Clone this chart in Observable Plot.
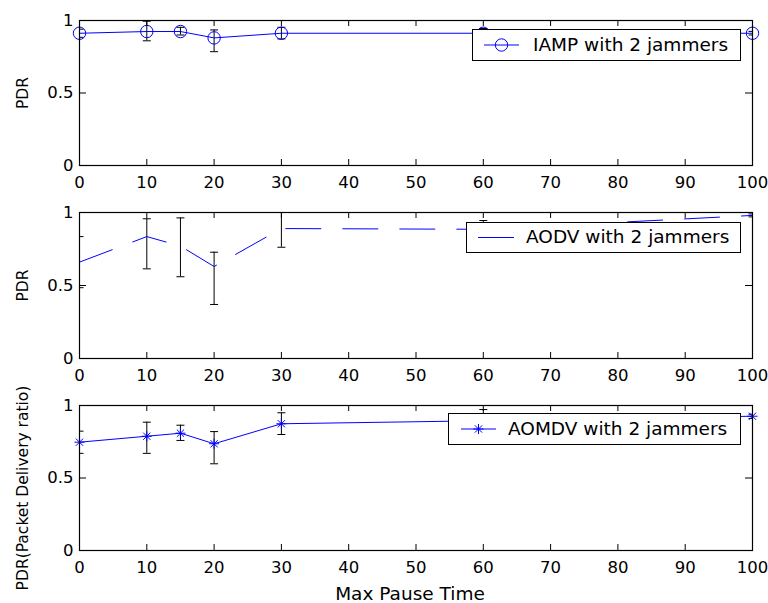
<!DOCTYPE html>
<html>
<head>
<meta charset="utf-8">
<script src="https://cdn.jsdelivr.net/npm/d3@7"></script>
<script src="https://cdn.jsdelivr.net/npm/@observablehq/plot@0.6"></script>
<style>
  html, body { margin: 0; padding: 0; background: white; }
  #wrap { position: relative; width: 768px; height: 603px; overflow: hidden; font-family: "DejaVu Sans", sans-serif; }
  .panel { position: absolute; left: 0; }
  .legend { position: absolute; box-sizing: border-box; border: 1.2px solid black; background: white; }
  .legend svg { position: absolute; left: 0; top: 0; }
  .legend span { position: absolute; font-size: 18.5px; line-height: 1; white-space: nowrap; }
</style>
</head>
<body>
<div id="wrap"></div>
<script>
// ---- data ----
const pauseTimes = [0, 10, 15, 20, 30, 60, 100];
const xTicks = [0, 10, 20, 30, 40, 50, 60, 70, 80, 90, 100];
const yTicks = [0, 0.5, 1];

const iampPDR = [0.912, 0.924, 0.924, 0.88, 0.912, 0.912, 0.912];
const iampLow = [0.884, 0.86, 0.90, 0.785, 0.873, 0.88, 0.90];
const iampHigh = [0.94, 0.995, 0.953, 0.935, 0.953, 0.945, 0.925];

const aodvPDR = [0.66, 0.835, 0.77, 0.63, 0.89, 0.885, 0.98];
const aodvLow = [0.485, 0.614, 0.56, 0.37, 0.762, 0.84, 0.97];
const aodvHigh = [0.835, 0.957, 0.963, 0.728, 1.02, 0.945, 0.99];

const aomdvPDR = [0.747, 0.788, 0.809, 0.736, 0.874, 0.895, 0.926];
const aomdvLow = [0.67, 0.67, 0.759, 0.598, 0.80, 0.82, 0.91];
const aomdvHigh = [0.823, 0.885, 0.864, 0.82, 0.95, 0.972, 0.94];

const legendLabels = ["IAMP with 2 jammers", "AODV with 2 jammers", "AOMDV with 2 jammers"];
const yLabels = ["PDR", "PDR", "PDR(Packet Delivery ratio)"];
const xLabel = "Max Pause Time";

// ---- helpers ----
const BLUE = "#0000ff";
const capSymbol = {draw(ctx, size) { const r = Math.sqrt(size / Math.PI); ctx.moveTo(-r, 0); ctx.lineTo(r, 0); }};
const starSymbol = {draw(ctx, size) {
  const r = Math.sqrt(size / Math.PI); const d = r * 0.72;
  ctx.moveTo(-r, 0); ctx.lineTo(r, 0); ctx.moveTo(0, -r); ctx.lineTo(0, r);
  ctx.moveTo(-d, -d); ctx.lineTo(d, d); ctx.moveTo(-d, d); ctx.lineTo(d, -d);
}};

function rows(vals, lo, hi) {
  return pauseTimes.map((x, i) => ({x, y: vals[i], lo: lo[i], hi: hi[i]}));
}

const W = 768, ML = 79, MR = 16;

function panel({data, top, mt, ih, mb, lineOpts, marker, yLabel, yLabelDy, showXLabel}) {
  const iw = W - ML - MR;
  const marks = [
    Plot.ruleX(data, {x: "x", y1: "lo", y2: "hi", stroke: "black", strokeWidth: 1, clip: true}),
    Plot.dot(data, {x: "x", y: "lo", symbol: capSymbol, r: 4, stroke: "black", fill: "none", strokeWidth: 1, clip: true}),
    Plot.dot(data, {x: "x", y: "hi", symbol: capSymbol, r: 4, stroke: "black", fill: "none", strokeWidth: 1, clip: true}),
    Plot.line(data, {x: "x", y: "y", stroke: BLUE, strokeWidth: 1, ...lineOpts}),
  ];
  if (marker === "circle") marks.push(Plot.dot(data, {x: "x", y: "y", symbol: "circle", r: 6.2, stroke: BLUE, fill: "none", strokeWidth: 1}));
  if (marker === "star") marks.push(Plot.dot(data, {x: "x", y: "y", symbol: starSymbol, r: 5, stroke: BLUE, fill: "none", strokeWidth: 1}));
  marks.push(
    Plot.tickX(xTicks, {x: d => d, insetTop: ih - 6, stroke: "black"}),
    Plot.tickX(xTicks, {x: d => d, insetBottom: ih - 6, stroke: "black"}),
    Plot.tickY(yTicks, {y: d => d, insetRight: iw - 7, stroke: "black"}),
    Plot.tickY(yTicks, {y: d => d, insetLeft: iw - 7, stroke: "black"}),
    Plot.axisX({ticks: xTicks, tickSize: 0, tickPadding: 11, tickFormat: d => String(d), label: null, fontSize: 16.5}),
    Plot.axisY({ticks: yTicks, tickSize: 0, tickPadding: 6, tickFormat: d => String(d), label: null, fontSize: 16.5}),
    Plot.text([yLabel], {text: d => d, frameAnchor: "left", textAnchor: "middle", dx: -56, dy: yLabelDy, rotate: -90, fontSize: 15.5, fill: "black"}),
    Plot.frame({stroke: "black", strokeWidth: 1.2})
  );
  if (showXLabel) marks.push(Plot.text([xLabel], {text: d => d, frameAnchor: "bottom", dy: 43.5, dx: -6, lineAnchor: "middle", fontSize: 18.5, fill: "black"}));
  const p = Plot.plot({
    width: W, height: mt + ih + mb,
    marginLeft: ML, marginRight: MR, marginTop: mt, marginBottom: mb,
    x: {domain: [0, 100]},
    y: {domain: [0, 1]},
    style: {fontFamily: "DejaVu Sans, sans-serif", fontSize: "16.5px", color: "black", background: "transparent", overflow: "visible"},
    marks
  });
  const div = document.createElement("div");
  div.className = "panel";
  div.style.top = top + "px";
  div.appendChild(p);
  document.getElementById("wrap").appendChild(div);
}

panel({data: rows(iampPDR, iampLow, iampHigh), top: 0, mt: 20, ih: 145, mb: 27, lineOpts: {}, marker: "circle", yLabel: yLabels[0], yLabelDy: 0});
panel({data: rows(aodvPDR, aodvLow, aodvHigh), top: 192, mt: 20, ih: 146, mb: 27, lineOpts: {strokeDasharray: "35,22"}, marker: null, yLabel: yLabels[1], yLabelDy: 0});
panel({data: rows(aomdvPDR, aomdvLow, aomdvHigh), top: 385, mt: 20, ih: 145, mb: 53, lineOpts: {}, marker: "star", yLabel: yLabels[2], yLabelDy: 10, showXLabel: true});

// ---- legends ----
function legend({left, top, width, height, lineX0, lineX1, marker, textLeft, label}) {
  const box = document.createElement("div");
  box.className = "legend";
  Object.assign(box.style, {left: left + "px", top: top + "px", width: width + "px", height: height + "px"});
  const cy = height / 2 - 1;
  const mx = (lineX0 + lineX1) / 2;
  let m = "";
  if (marker === "circle") m = `<circle cx="${mx}" cy="${cy}" r="6.2" fill="none" stroke="${BLUE}" stroke-width="1"/>`;
  if (marker === "star") { const r = 5, d = 3.6; m = `<path d="M${mx-r},${cy}H${mx+r}M${mx},${cy-r}V${cy+r}M${mx-d},${cy-d}L${mx+d},${cy+d}M${mx-d},${cy+d}L${mx+d},${cy-d}" stroke="${BLUE}" stroke-width="1" fill="none"/>`; }
  box.innerHTML = `<svg width="${width}" height="${height}"><line x1="${lineX0}" x2="${lineX1}" y1="${cy}" y2="${cy}" stroke="${BLUE}" stroke-width="1"/>${m}</svg>` +
    `<span style="left:${textLeft}px; top:${cy - 9.5}px">${label}</span>`;
  document.getElementById("wrap").appendChild(box);
}
legend({left: 472, top: 29, width: 269, height: 32, lineX0: 11, lineX1: 46, marker: "circle", textLeft: 60, label: legendLabels[0]});
legend({left: 466, top: 222, width: 275, height: 31, lineX0: 11, lineX1: 47, marker: null, textLeft: 59, label: legendLabels[1]});
legend({left: 448, top: 413, width: 293, height: 32, lineX0: 12, lineX1: 47, marker: "star", textLeft: 59, label: legendLabels[2]});
</script>
</body>
</html>
